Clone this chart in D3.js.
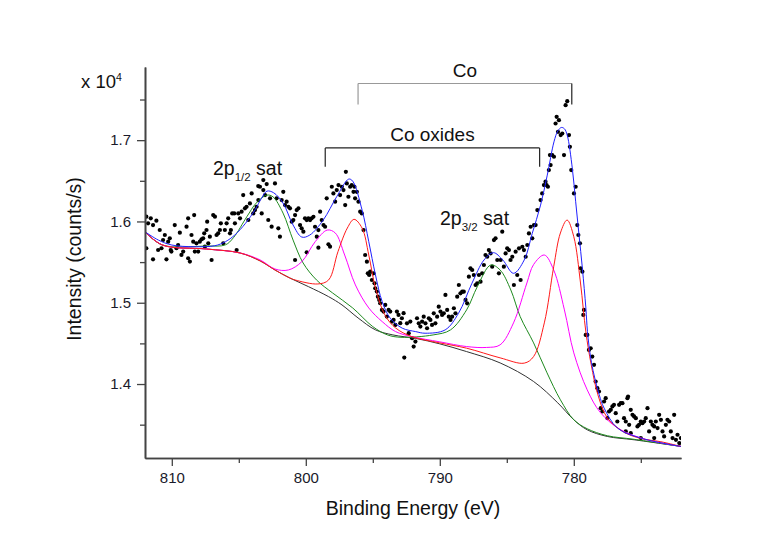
<!DOCTYPE html>
<html><head><meta charset="utf-8">
<script src="https://cdn.jsdelivr.net/npm/d3@7"></script>
<style>body{margin:0;background:#fff}svg{display:block}text{font-family:"Liberation Sans",Arial,sans-serif}</style>
</head><body><svg id="c" width="777" height="535"></svg>
<script>
// ---- data (binding energy eV, intensity counts/s) ----
const xMajorTicks = [810, 800, 790, 780];
const xMinorTicks = [805, 795, 785, 775];
const yMajorTicks = [14000, 15000, 16000, 17000];
const yMinorTicks = [13500, 14500, 15500, 16500, 17500];
const yTickLabels = ["1.4", "1.5", "1.6", "1.7"];

const background = [[812.0,15873],[810.7,15710],[807.4,15661],[804.9,15612],[803.4,15514],[802.3,15403],[801.2,15305],[799.8,15198],[798.3,15075],[797.3,14973],[796.1,14813],[794.8,14666],[793.5,14604],[791.8,14561],[790.0,14494],[788.0,14399],[785.5,14260],[783.0,14031],[781.2,13769],[780.0,13560],[779.0,13437],[777.5,13355],[775.5,13314],[772.0,13232]];
const satellites = [[812.0,15873],[810.7,15710],[807.4,15698],[806.0,15712],[805.4,15800],[804.4,16058],[803.7,16226],[802.9,16324],[802.45,16303],[801.7,16103],[800.95,15771],[800.2,15489],[799.2,15280],[798.0,15120],[796.5,14936],[795.0,14706],[793.9,14604],[792.9,14575],[790.5,14604],[789.2,14666],[788.0,14912],[787.2,15198],[786.2,15464],[785.5,15403],[784.7,15157],[784.0,14829],[783.0,14506],[782.0,14138],[781.0,13806],[780.0,13560],[779.0,13450],[777.5,13364],[775.5,13320],[772.0,13232]];
const oxideB = [[812.0,15873],[810.7,15710],[807.4,15661],[804.9,15612],[803.4,15526],[802.3,15415],[801.3,15403],[800.3,15505],[799.3,15751],[798.4,15894],[797.8,15858],[797.1,15587],[796.3,15219],[795.3,14936],[794.3,14768],[793.3,14645],[792.1,14584],[790.0,14519],[788.0,14461],[786.5,14450],[785.5,14482],[784.5,14752],[783.5,15243],[783.0,15470],[782.2,15587],[781.5,15403],[780.7,14912],[780.0,14383],[779.0,13929],[778.0,13646],[776.5,13437],[774.5,13314],[772.0,13232]];
const oxideA = [[812.0,15873],[810.7,15710],[807.4,15661],[804.9,15612],[803.4,15514],[802.3,15403],[801.2,15305],[800.8,15280],[799.1,15231],[798.3,15280],[797.6,15628],[796.9,15919],[796.4,16026],[795.8,15919],[795.3,15587],[794.8,15182],[794.1,14850],[793.3,14690],[792.1,14584],[790.0,14506],[788.0,14441],[785.5,14322],[783.7,14257],[783.0,14338],[782.2,14752],[781.5,15443],[781.0,15858],[780.5,16017],[780.0,15812],[779.5,15243],[779.1,14641],[778.7,14236],[778.2,13867],[777.5,13584],[776.3,13412],[775.0,13330],[773.5,13290],[772.0,13232]];
const envelope = [[812.0,15873],[811.0,15771],[810.0,15710],[808.3,15689],[806.8,15701],[806.0,15751],[805.3,15833],[804.5,15977],[803.8,16140],[803.3,16287],[802.9,16373],[802.4,16353],[801.7,16226],[800.95,15956],[800.3,15808],[799.7,15833],[798.7,16017],[797.7,16303],[796.8,16521],[796.5,16496],[795.8,16140],[795.3,15751],[794.8,15342],[794.3,15014],[793.7,14810],[792.8,14687],[791.8,14645],[791.1,14625],[789.6,14666],[788.6,14871],[787.6,15240],[786.7,15526],[786.0,15616],[785.3,15526],[784.5,15362],[783.7,15526],[783.1,15854],[782.48,16201],[781.98,16570],[781.48,16979],[781.2,17111],[780.93,17156],[780.7,17140],[780.49,17061],[780.11,16652],[779.86,16242],[779.61,15833],[779.36,15424],[779.1,14936],[778.98,14645],[778.74,14322],[778.49,14113],[778.1,13867],[777.74,13704],[776.74,13458],[775.0,13335],[772.0,13232]];

const measured = [
[811.90,16059],[811.77,15977],[811.57,16038],[811.40,15956],[811.15,16009],[810.90,15895],[810.65,15772],[810.52,15833],[810.77,15670],[811.02,15649],[811.40,15534],[811.90,15670],[810.40,15534],[810.27,15751],[810.15,15792],[810.08,15649],[810.03,15629],[809.78,15956],[809.65,15670],[809.53,15710],[809.40,15862],[809.28,15588],[809.15,15629],[808.90,15936],[808.78,16038],[808.78,15547],[808.65,15506],[808.53,15833],[808.40,15751],[808.33,16079],[808.28,15629],[808.16,15731],[808.03,15629],[807.91,15751],[807.78,15780],[807.66,15792],[807.58,15854],[807.53,15690],[807.41,15895],[807.36,15997],[807.28,15731],[807.16,15813],[807.03,15526],[806.91,16079],[806.78,16059],[806.66,15833],[806.54,15854],[806.41,15895],[806.34,15977],[806.16,15731],[806.04,15895],[805.91,15977],[805.79,16038],[805.66,15854],[805.59,15895],[805.49,16099],[805.34,16099],[805.29,15977],[805.16,15649],[805.04,16099],[804.91,16038],[804.79,16120],[804.67,16325],[804.54,16161],[804.42,16181],[804.29,16018],[804.17,16222],[804.04,16345],[803.92,16099],[803.79,16140],[803.67,16181],[803.54,16263],[803.42,16427],[803.29,16099],[803.17,16386],[803.04,16325],[802.92,16460],[802.80,16018],[802.67,16284],[802.55,15936],[803.17,16509],[803.55,16435],
[802.30,16468],[802.18,16284],[802.05,15915],[801.93,15813],[801.80,16263],[801.68,16365],[801.55,16202],[801.43,16243],[801.30,16181],[801.18,16161],[801.05,15997],[800.93,16017],[800.80,16079],[800.80,15526],[800.68,16140],[800.55,16161],[800.43,15956],[800.31,15915],[800.18,15874],[800.06,16038],[799.93,16017],[799.93,15620],[799.81,16038],[799.68,16017],[799.56,16038],[799.43,16058],[799.31,15935],[799.18,15813],[799.06,15894],[799.06,15677],[798.93,16120],[798.81,16017],[798.68,15956],[798.56,15935],[798.44,16284],[798.31,15718],[798.19,15690],[798.06,16427],[797.94,16345],[797.81,16243],[797.69,16386],[797.56,16447],[797.44,16324],[797.31,16427],[797.19,16386],[797.06,16202],[797.01,16611],[796.94,16468],[796.82,16304],[796.69,16427],[796.57,16447],[796.44,16365],[796.37,16427],[796.32,16284],[796.19,16365],[796.07,16243],[795.94,16120],[795.82,16099],[795.69,15894],[795.57,15587],[795.44,15505],[795.37,15362],[795.27,15342],[795.19,15383],[795.07,15280],[794.95,15362],[794.87,15239],[794.82,15178],[794.70,15137],[794.62,15075],[794.52,15035],[794.45,14994],[794.32,14912],[794.20,14891],[794.07,14973],[793.95,14830],[793.82,14912],[793.70,14891],[793.57,14768],[793.45,14789],[793.32,14727],[793.20,14891],[793.08,14850],[792.95,14748],[792.83,14809],[792.70,14871],
[792.45,14747],[792.20,14768],[792.32,14625],[792.07,14563],[791.95,14461],[791.82,14522],[791.70,14809],[791.57,14747],[791.45,14707],[791.32,14768],[791.20,14829],[791.07,14747],[790.95,14686],[790.82,14809],[790.70,14788],[790.58,14727],[790.45,14870],[790.33,14747],[790.20,14829],[790.08,14952],[789.95,14891],[789.83,14850],[789.70,14870],[789.58,15096],[789.45,14911],[789.33,14829],[789.20,14788],[789.08,14829],[788.95,14932],[788.83,14870],[788.70,15075],[788.58,15218],[788.46,15116],[788.33,15136],[788.21,15136],[788.08,15034],[787.96,14993],[787.83,15321],[787.71,15423],[787.58,15403],[787.46,15341],[787.33,15218],[787.21,15239],[787.08,15341],[786.96,15259],[786.84,15362],[786.71,15464],[786.59,15587],[786.46,15566],[786.34,15648],[786.21,15607],[786.09,15444],[785.96,15771],[785.84,15792],[785.71,15526],[785.59,15362],[785.46,15526],[785.34,15874],[785.22,15444],[785.09,15607],[784.97,15669],[784.84,15648],[784.72,15526],[784.59,15566],[784.47,15218],[784.34,15628],[784.22,15341],[784.09,15669],[783.97,15280],[783.84,15689],[783.72,15648],[783.59,15566],[783.47,15710],[783.35,15853],[783.22,15935],[783.10,15792],[782.97,15955],[782.85,15955],[782.72,16140],[792.65,14326],
[782.48,16263],[782.36,16345],[782.23,16448],[782.11,16489],[782.03,16448],[781.93,16427],[781.86,16632],[781.78,16816],[781.73,16693],[781.61,16816],[781.48,16796],[781.36,17205],[781.28,17287],[781.18,17103],[781.11,17246],[780.98,17062],[780.86,17082],[780.73,16816],[780.61,17430],[780.49,17479],[780.36,17062],[780.29,16918],[780.19,16632],[779.99,16345],[779.86,16427],[779.74,15956],[779.66,15833],[779.54,15731],
[779.49,15423],[779.36,15382],[779.24,14911],[779.29,14850],[779.11,14604],[778.99,14604],[778.87,14420],[778.74,14440],[778.62,14338],[778.49,14236],[778.37,14031],[778.24,13949],[778.12,13908],[777.99,13703],[777.87,13662],[777.74,13785],[777.62,13826],[777.49,13580],[777.37,13662],[777.24,13683],[777.12,13724],[777.00,13744],[776.87,13642],[776.75,13539],[776.62,13744],[776.50,13765],[776.37,13765],[776.25,13580],[776.12,13539],[776.12,13417],[776.00,13826],[775.95,13846],[775.87,13498],[775.75,13683],[775.75,13396],[775.62,13621],[775.50,13601],[775.37,13580],[775.25,13478],[775.13,13498],[775.00,13539],[775.00,13335],[774.88,13519],[774.75,13539],[774.63,13580],[774.50,13703],[774.38,13417],[774.25,13539],[774.13,13498],[774.00,13478],[774.00,13335],[773.88,13539],[773.75,13458],[773.63,13621],[773.50,13560],[773.38,13417],[773.26,13355],[773.13,13498],[773.01,13560],[772.88,13539],[772.76,13417],[772.63,13335],[772.51,13621],[772.38,13314],[772.26,13376],[772.13,13273],[772.01,13335]
];

// annotations: [label, E start, E end, bar intensity, tick-bottom intensity]
const bracketCo = ["Co", 796.1, 780.15, 17697, 17440];
const bracketOx = ["Co oxides", 798.55, 782.55, 16905, 16672];

// ---- chart ----
const svg = d3.select("#c");
const L = 145, R = 681, T = 67, B = 458;
const x = d3.scaleLinear().domain([812, 772]).range([L, R]);
const y = d3.scaleLinear().domain([13090, 17900]).range([B, T]);

svg.append("defs").append("clipPath").attr("id","clip")
  .append("rect").attr("x",L).attr("y",T-5).attr("width",R-L).attr("height",B-T+5);

const line = d3.line().x(d=>x(d[0])).y(d=>y(d[1])).curve(d3.curveCatmullRom.alpha(0.5));
const sortE = a => a.slice().sort((p,q)=>q[0]-p[0]);
const g = svg.append("g").attr("clip-path","url(#clip)");

g.selectAll("circle").data(measured).join("circle")
  .attr("cx",d=>x(d[0])).attr("cy",d=>y(d[1])).attr("r",2.1).attr("fill","#000");

[[background,"#333333"],[satellites,"#1e8a1e"],[oxideB,"#ff00ff"],[oxideA,"#ff1a1a"],[envelope,"#2020ff"]]
  .forEach(([s,c])=>{
    g.append("path").attr("d",line(sortE(s))).attr("fill","none").attr("stroke",c).attr("stroke-width",1);
  });

// axes
const axCol = "#444";
function styleAxis(sel){
  sel.selectAll(".domain").attr("stroke",axCol).attr("stroke-width",1.6);
  sel.selectAll(".tick line").attr("stroke",axCol).attr("stroke-width",1.3);
  sel.selectAll("text").attr("fill","#1a1a2a").attr("font-size",15).attr("font-family",'"Liberation Sans",Arial,sans-serif');
}
const xa = svg.append("g").attr("transform",`translate(0,${B})`)
  .call(d3.axisBottom(x).tickValues(xMajorTicks).tickSize(8).tickSizeOuter(0).tickPadding(6).tickFormat(d3.format("d")));
styleAxis(xa);
const xm = svg.append("g").attr("transform",`translate(0,${B})`)
  .call(d3.axisBottom(x).tickValues(xMinorTicks).tickSize(5).tickSizeOuter(0).tickFormat(""));
styleAxis(xm);
const ya = svg.append("g").attr("transform",`translate(${L},0)`)
  .call(d3.axisLeft(y).tickValues(yMajorTicks).tickSize(8).tickSizeOuter(0).tickPadding(6)
    .tickFormat((d,i)=>yTickLabels[i]));
styleAxis(ya);
const ym = svg.append("g").attr("transform",`translate(${L},0)`)
  .call(d3.axisLeft(y).tickValues(yMinorTicks).tickSize(5).tickSizeOuter(0).tickFormat(""));
styleAxis(ym);

// exponent label
const ex = svg.append("text").attr("x",81).attr("y",88).attr("font-size",18.5).attr("fill","#111");
ex.append("tspan").text("x 10");
ex.append("tspan").attr("font-size",10.5).attr("dy",-7).text("4");

// axis titles
svg.append("text").attr("x",413).attr("y",515).attr("text-anchor","middle")
  .attr("font-size",19.5).attr("fill","#111").text("Binding Energy (eV)");
svg.append("text").attr("transform","translate(81,259) rotate(-90)").attr("text-anchor","middle")
  .attr("font-size",19.5).attr("fill","#111").text("Intensity (counts/s)");

// brackets
function bracket(b, col, barCol){
  const [lab,e1,e2,iy,ib] = b;
  svg.append("line").attr("x1",x(e1)).attr("x2",x(e2)).attr("y1",y(iy)).attr("y2",y(iy)).attr("stroke",barCol).attr("stroke-width",1.2);
  svg.append("line").attr("x1",x(e1)).attr("x2",x(e1)).attr("y1",y(iy)).attr("y2",y(ib)).attr("stroke",barCol).attr("stroke-width",1.2);
  svg.append("line").attr("x1",x(e2)).attr("x2",x(e2)).attr("y1",y(iy)).attr("y2",y(ib)).attr("stroke",col).attr("stroke-width",1.2);
  svg.append("text").attr("x",(x(e1)+x(e2))/2).attr("y",y(iy)-7).attr("text-anchor","middle")
    .attr("font-size",19).attr("fill","#111").text(lab);
}
bracket(bracketCo, "#222", "#999");
bracket(bracketOx, "#222", "#222");

// peak labels
function peakLabel(px, py, sub){
  const t = svg.append("text").attr("x",px).attr("y",py).attr("font-size",19.5).attr("fill","#111");
  t.append("tspan").text("2p");
  t.append("tspan").attr("font-size",11.5).attr("dy",6).text(sub);
  t.append("tspan").attr("dy",-6).text(" sat");
}
peakLabel(213, 175, "1/2");
peakLabel(440, 225, "3/2");
</script></body></html>
